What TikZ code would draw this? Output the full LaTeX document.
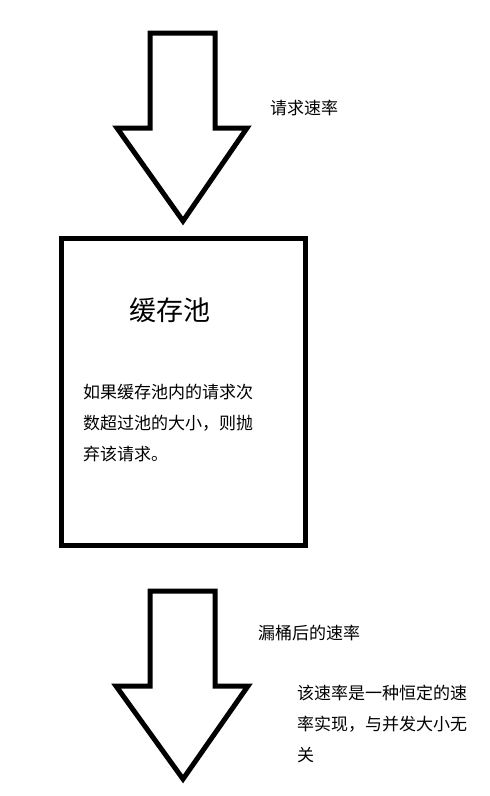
\documentclass[tikz,border=0pt]{standalone}
\usepackage{fontspec}
\newfontfamily\cjk{Noto Sans CJK SC}
\begin{document}
\begin{tikzpicture}[x=1pt,y=-1pt,
  outl/.style={draw=black,line width=5pt,line join=miter,fill=white},
  lbl/.style={font=\cjk\fontsize{17}{31}\selectfont,inner sep=0pt,anchor=west,align=left},
  ttl/.style={font=\cjk\fontsize{27}{30}\selectfont,inner sep=0pt}]
\useasboundingbox (0,0) rectangle (490,796);
% top arrow
\draw[outl] (150,33) -- (215,33) -- (215,128) -- (247,128) -- (183,221) -- (117,128) -- (150,128) -- cycle;
\node[lbl] (rin) at (270,108) {请求速率};
% box
\draw[outl] (61,238) rectangle (305,545);
\node[ttl] (pool) at (170,310) {缓存池};
\node[lbl] (rule) at (83,423) {如果缓存池内的请求次\\数超过池的大小，则抛\\弃该请求。};
% bottom arrow
\draw[outl] (150,591) -- (215,591) -- (215,686) -- (248,686) -- (183,779) -- (116,686) -- (150,686) -- cycle;
\node[lbl] (rout) at (258,633) {漏桶后的速率};
\node[lbl] (note) at (297,724) {该速率是一种恒定的速\\率实现，与并发大小无\\关};
\end{tikzpicture}
\end{document}
